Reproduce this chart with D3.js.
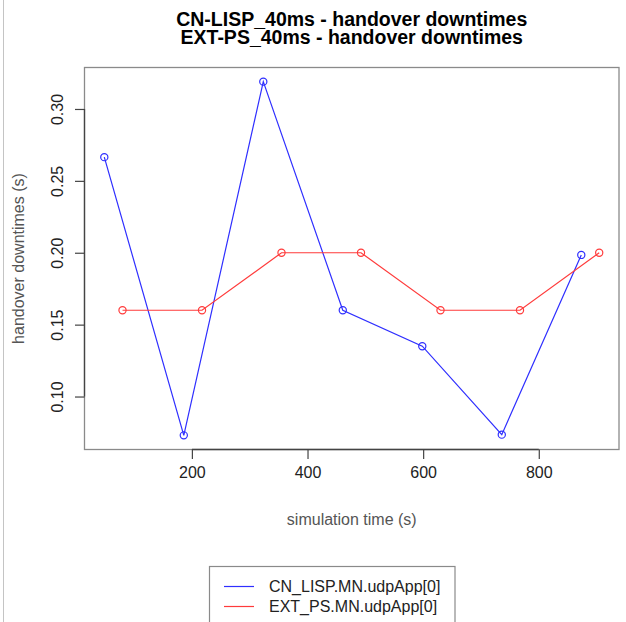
<!DOCTYPE html>
<html>
<head>
<meta charset="utf-8">
<script src="https://cdn.jsdelivr.net/npm/d3@7"></script>
<style>
  html, body { margin: 0; padding: 0; background: #fff; }
  svg { display: block; }
  text { font-family: "Liberation Sans", Arial, Helvetica, sans-serif; }
</style>
</head>
<body>
<svg id="chart" width="626" height="622"></svg>
<script>
// Handover downtimes per simulation time, one series per scenario
const titleLines = ["CN-LISP_40ms - handover downtimes", "EXT-PS_40ms - handover downtimes"];
const seriesNames = ["CN_LISP.MN.udpApp[0]", "EXT_PS.MN.udpApp[0]"];
const seriesColors = ["#2f2fff", "#ff3b3b"];

const lispTimes = [48.5, 186, 323.5, 461, 598.5, 736, 873.5];
const lispDowntimes = [0.2665, 0.073, 0.319, 0.160, 0.135, 0.0735, 0.1985];

const psTimes = [80, 217.5, 355, 492.5, 630, 767.5, 904.5];
const psDowntimes = [0.16, 0.16, 0.20, 0.20, 0.16, 0.16, 0.20];

const xTicks = [200, 400, 600, 800];
const yTicks = [0.10, 0.15, 0.20, 0.25, 0.30];

const xLabel = "simulation time (s)";
const yLabel = "handover downtimes (s)";

const svg = d3.select("#chart");
const plot = { left: 84.5, right: 619, top: 67.5, bottom: 449.5 };

// Axis ranges padded by 4% on each side, like base R graphics
function padded(values) {
  const [lo, hi] = d3.extent(values);
  const pad = (hi - lo) * 0.04;
  return [lo - pad, hi + pad];
}

const x = d3.scaleLinear()
  .domain(padded(lispTimes.concat(psTimes)))
  .range([plot.left, plot.right]);
const y = d3.scaleLinear()
  .domain(padded(lispDowntimes.concat(psDowntimes)))
  .range([plot.bottom, plot.top]);

// thin frame line along the left edge of the canvas
svg.append("line")
  .attr("x1", 3.5).attr("x2", 3.5).attr("y1", 0).attr("y2", 622)
  .attr("stroke", "#c4c4c4").attr("stroke-width", 1);

// title
const title = svg.append("text")
  .attr("text-anchor", "middle")
  .attr("font-weight", "bold")
  .attr("font-size", 19.5)
  .attr("fill", "#000");
titleLines.forEach((t, i) => {
  title.append("tspan")
    .attr("x", (plot.left + plot.right) / 2)
    .attr("y", 25.5 + i * 18)
    .text(t);
});

// plot frame
svg.append("rect")
  .attr("x", plot.left).attr("y", plot.top)
  .attr("width", plot.right - plot.left)
  .attr("height", plot.bottom - plot.top)
  .attr("fill", "none")
  .attr("stroke", "#8a8a8a")
  .attr("stroke-width", 1.3);

// x axis
const xAxis = svg.append("g")
  .attr("transform", `translate(0,${plot.bottom})`)
  .call(d3.axisBottom(x).tickValues(xTicks).tickSize(9.5).tickPadding(8).tickFormat(d3.format("d")));
xAxis.select(".domain")
  .attr("d", `M${x(xTicks[0])},0H${x(xTicks[xTicks.length - 1])}`)
  .attr("stroke", "#444").attr("stroke-width", 1.3);
xAxis.selectAll(".tick line").attr("stroke", "#444").attr("stroke-width", 1.2);
xAxis.selectAll(".tick text")
  .attr("font-size", 16).attr("fill", "#222")
  .attr("font-family", '"Liberation Sans", Arial, sans-serif');

// y axis, labels drawn parallel to the axis
const yAxis = svg.append("g")
  .attr("transform", `translate(${plot.left},0)`)
  .call(d3.axisLeft(y).tickValues(yTicks).tickSize(9.5).tickFormat(d3.format(".2f")));
yAxis.select(".domain")
  .attr("d", `M0,${y(yTicks[0])}V${y(yTicks[yTicks.length - 1])}`)
  .attr("stroke", "#444").attr("stroke-width", 1.3);
yAxis.selectAll(".tick line").attr("stroke", "#444").attr("stroke-width", 1.2);
yAxis.selectAll(".tick text")
  .attr("font-size", 16).attr("fill", "#222")
  .attr("font-family", '"Liberation Sans", Arial, sans-serif')
  .attr("x", null).attr("dy", null)
  .attr("text-anchor", "middle")
  .attr("transform", "translate(-21.5,0) rotate(-90)");

// axis titles
svg.append("text")
  .attr("x", (plot.left + plot.right) / 2).attr("y", 525)
  .attr("text-anchor", "middle")
  .attr("font-size", 16).attr("fill", "#555")
  .text(xLabel);
svg.append("text")
  .attr("transform", `translate(24,${(plot.top + plot.bottom) / 2}) rotate(-90)`)
  .attr("text-anchor", "middle")
  .attr("font-size", 16).attr("fill", "#555")
  .text(yLabel);

// series lines and open-circle markers
const series = [
  { times: lispTimes, values: lispDowntimes },
  { times: psTimes, values: psDowntimes }
];
const line = d3.line().x(d => x(d[0])).y(d => y(d[1]));

series.forEach((s, i) => {
  const pts = d3.zip(s.times, s.values);
  svg.append("path")
    .datum(pts)
    .attr("d", line)
    .attr("fill", "none")
    .attr("stroke", seriesColors[i])
    .attr("stroke-width", 1.2);
  svg.append("g").selectAll("circle")
    .data(pts)
    .join("circle")
    .attr("cx", d => x(d[0]))
    .attr("cy", d => y(d[1]))
    .attr("r", 3.6)
    .attr("fill", "none")
    .attr("stroke", seriesColors[i])
    .attr("stroke-width", 1.2);
});

// legend
const legend = svg.append("g");
legend.append("rect")
  .attr("x", 209.5).attr("y", 566.5)
  .attr("width", 245.5).attr("height", 70)
  .attr("fill", "#fff")
  .attr("stroke", "#8a8a8a").attr("stroke-width", 1.2);
seriesNames.forEach((name, i) => {
  const ly = 586.5 + i * 20;
  legend.append("line")
    .attr("x1", 224).attr("x2", 254)
    .attr("y1", ly).attr("y2", ly)
    .attr("stroke", seriesColors[i]).attr("stroke-width", 1.2);
  legend.append("text")
    .attr("x", 269).attr("y", ly + 5.5)
    .attr("font-size", 16).attr("fill", "#222")
    .text(name);
});
</script>
</body>
</html>
